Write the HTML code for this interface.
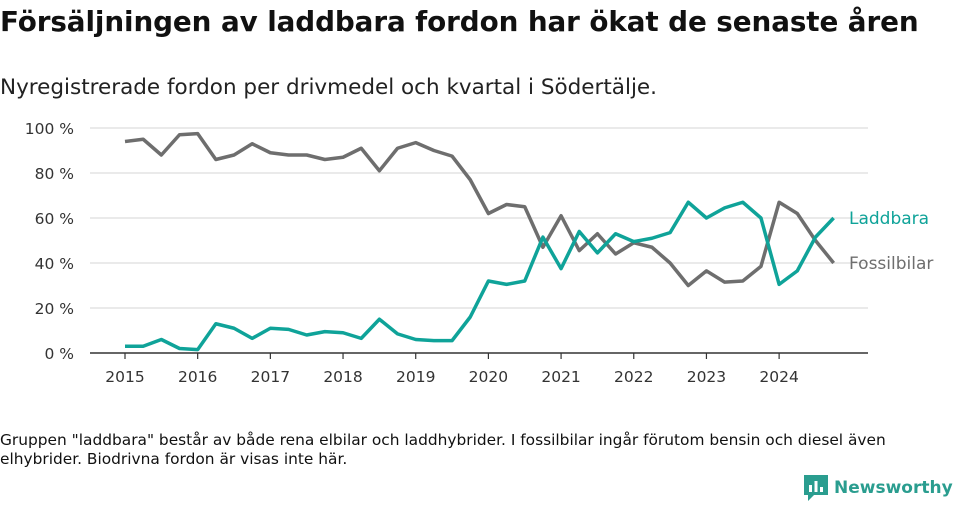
<!DOCTYPE html>
<html><head><meta charset="utf-8"><style>
body{margin:0;width:960px;height:505px;background:#fff;font-family:"DejaVu Sans",sans-serif;overflow:hidden;position:relative}
.t{position:absolute;left:0;top:5px;font-size:27.8px;font-weight:bold;color:#111;white-space:nowrap;letter-spacing:-0.1px}
.s{position:absolute;left:0;top:75px;font-size:21.5px;color:#222;white-space:nowrap}
.n{position:absolute;left:0;top:431px;font-size:15.4px;color:#111;line-height:19px;width:920px}
.logo{position:absolute;left:804px;top:475px;font-size:17px;color:#2a9d8f;font-weight:bold;display:flex;align-items:center;gap:6px;white-space:nowrap}
svg{position:absolute;left:0;top:0}
svg text{font-family:"DejaVu Sans",sans-serif}
</style></head><body>
<div class="t">Försäljningen av laddbara fordon har ökat de senaste åren</div>
<div class="s">Nyregistrerade fordon per drivmedel och kvartal i Södertälje.</div>
<svg id="c" width="960" height="420"></svg>
<div class="n">Gruppen "laddbara" består av både rena elbilar och laddhybrider. I fossilbilar ingår förutom bensin och diesel även elhybrider. Biodrivna fordon är visas inte här.</div>
<div class="logo"><svg width="24" height="26" style="position:static"><path d="M0 0h24v20h-14l-6 6v-6h-4z" fill="#2a9d8f"/><rect x="5" y="10" width="3" height="7" fill="#fff"/><rect x="10.5" y="6" width="3" height="11" fill="#fff"/><rect x="16" y="12" width="3" height="5" fill="#fff"/></svg>Newsworthy</div>
<script>
const fossil=[94,95,88,97,97.5,86,88,93,89,88,88,86,87,91,81,91,93.5,90,87.5,77,62,66,65,47,61,45.5,53,44,49,47,40,30,36.5,31.5,32,38.5,67,62,50,40];
const laddbara=[3,3,6,2,1.5,13,11,6.5,11,10.5,8,9.5,9,6.5,15,8.5,6,5.5,5.5,16,32,30.5,32,51.5,37.5,54,44.5,53,49.5,51,53.5,67,60,64.5,67,60,30.5,36.5,51.5,60];
const yTicks=[0,20,40,60,80,100];
const years=[2015,2016,2017,2018,2019,2020,2021,2022,2023,2024];
const NS="http://www.w3.org/2000/svg",svg=document.getElementById('c');
const x=i=>125+i*18.17, y=v=>353-v*2.25;
function mk(t,a){const e=document.createElementNS(NS,t);for(const k in a)e.setAttribute(k,a[k]);svg.appendChild(e);return e;}
yTicks.forEach(v=>{
 if(v>0){const g=mk('line',{x1:90,x2:868,y1:y(v),y2:y(v),stroke:'#ddd','stroke-width':1.2});
 
 }
 const t=mk('text',{x:74,y:y(v)+6,'text-anchor':'end','font-size':15.5,fill:'#333'});t.textContent=v+' %';
 
 
});
const ax=mk('line',{x1:90,x2:868,y1:353,y2:353,stroke:'#333','stroke-width':1.5});


years.forEach((yr,k)=>{
 const px=x(k*4);
 mk('line',{x1:px,x2:px,y1:353,y2:359,stroke:'#333','stroke-width':1.2});
 const t=mk('text',{x:px,y:382,'text-anchor':'middle','font-size':15.5,fill:'#333'});t.textContent=yr;
 
 
});
function line(d,c,name,label){
 const p=mk('polyline',{points:d.map((v,i)=>x(i)+','+y(v)).join(' '),fill:'none',stroke:c,'stroke-width':3.5,'stroke-linejoin':'round'});
 
 
 const t=mk('text',{x:849,y:y(d[d.length-1])+6,'font-size':17,fill:c});t.textContent=label;
 
 
}
line(fossil,'#6e6e6e','fossilbilar','Fossilbilar');
line(laddbara,'#0fa399','laddbara','Laddbara');
</script>
</body></html>
